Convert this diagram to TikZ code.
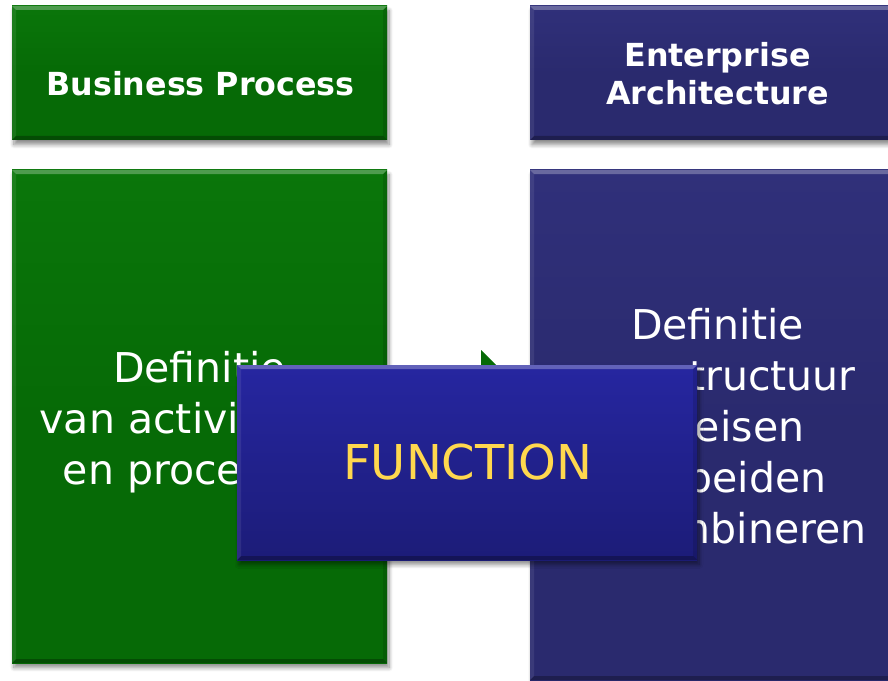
\documentclass[tikz,border=0pt]{standalone}
\usepackage{fontspec}
\setmainfont{DejaVu Sans}
\usetikzlibrary{shadows.blur}
\definecolor{bpgreen}{HTML}{066A06}
\definecolor{bpgreenhi}{HTML}{0A760A}
\definecolor{eanavy}{HTML}{2A2A6E}
\definecolor{eanavyhi}{HTML}{30307A}
\definecolor{fntop}{HTML}{2626A0}
\definecolor{fnbot}{HTML}{1C1C78}
\definecolor{fnyellow}{HTML}{FFD84E}
\tikzset{
  boxbase/.style={rectangle, inner sep=0pt, draw=none,
    blur shadow={shadow xshift=1.5pt, shadow yshift=-3.5pt, shadow blur steps=8, shadow opacity=45, shadow blur radius=3pt}},
  bevel/.style={path picture={
    \fill[white,opacity=0.28] (path picture bounding box.north west) -- (path picture bounding box.north east)
      -- ([xshift=-3pt,yshift=-3pt]path picture bounding box.north east) -- ([xshift=3pt,yshift=-3pt]path picture bounding box.north west) -- cycle;
    \fill[black,opacity=0.28] (path picture bounding box.south west) -- (path picture bounding box.south east)
      -- ([xshift=-3pt,yshift=3pt]path picture bounding box.south east) -- ([xshift=3pt,yshift=3pt]path picture bounding box.south west) -- cycle;
    \fill[black,opacity=0.12] (path picture bounding box.north east) -- (path picture bounding box.south east)
      -- ([xshift=-3pt,yshift=3pt]path picture bounding box.south east) -- ([xshift=-3pt,yshift=-3pt]path picture bounding box.north east) -- cycle;
    \fill[white,opacity=0.08] (path picture bounding box.north west) -- (path picture bounding box.south west)
      -- ([xshift=3pt,yshift=3pt]path picture bounding box.south west) -- ([xshift=3pt,yshift=-3pt]path picture bounding box.north west) -- cycle;
  }},
  greenbox/.style={boxbase, bevel, top color=bpgreenhi, bottom color=bpgreen, middle color=bpgreen},
  navybox/.style={boxbase, bevel, top color=eanavyhi, bottom color=eanavy, middle color=eanavy},
  funcbox/.style={boxbase, bevel, top color=fntop, bottom color=fnbot},
  headtext/.style={inner sep=0pt, text=white, align=center, anchor=base,
    font=\fontsize{23.8pt}{28.5pt}\selectfont\bfseries},
  bodytext/.style={inner sep=0pt, text=white, align=center, anchor=base,
    font=\fontsize{30.8pt}{38.25pt}\selectfont},
  functext/.style={inner sep=0pt, text=fnyellow, anchor=base,
    font=\fontsize{36pt}{43pt}\selectfont},
}
\begin{document}
\begin{tikzpicture}[x=0.75pt,y=-0.75pt]
\useasboundingbox (0,0) rectangle (888,681);
% header boxes
\node[greenbox, minimum width=281.25pt, minimum height=100.5pt] (bp) at (199.5,73) {};
\node[navybox, minimum width=281.25pt, minimum height=100.5pt] (ea) at (717.5,73) {};
% body boxes
\node[greenbox, minimum width=281.25pt, minimum height=369.75pt] (bpbody) at (199.5,416.5) {};
\node[navybox, minimum width=281.25pt, minimum height=382.5pt] (eabody) at (717.5,425) {};
% header texts (anchor base = baseline of the last line)
\node[headtext] (bptext) at (200.5,95.5) {Business Process};
\node[headtext] (eatext) at (717.5,105) {Enterprise\\Architecture};
% body texts
\node[bodytext] (bpbodytext) at (199.5,484) {Definitie\\van activiteiten\\en processen};
\node[bodytext] (eabodytext) at (717.5,543) {Definitie\\van structuur\\en eisen\\om beiden\\te combineren};
% arrow between the bodies (mostly hidden)
\fill[bpgreen] (396,420) -- (481,420) -- (481,350) -- (586,455) -- (481,560) -- (481,490) -- (396,490) -- cycle;
% function box
\node[funcbox, minimum width=345pt, minimum height=146.25pt] (func) at (467,462.5) {};
\node[functext] (functxt) at (468,479) {FUNCTION};
\end{tikzpicture}
\end{document}
